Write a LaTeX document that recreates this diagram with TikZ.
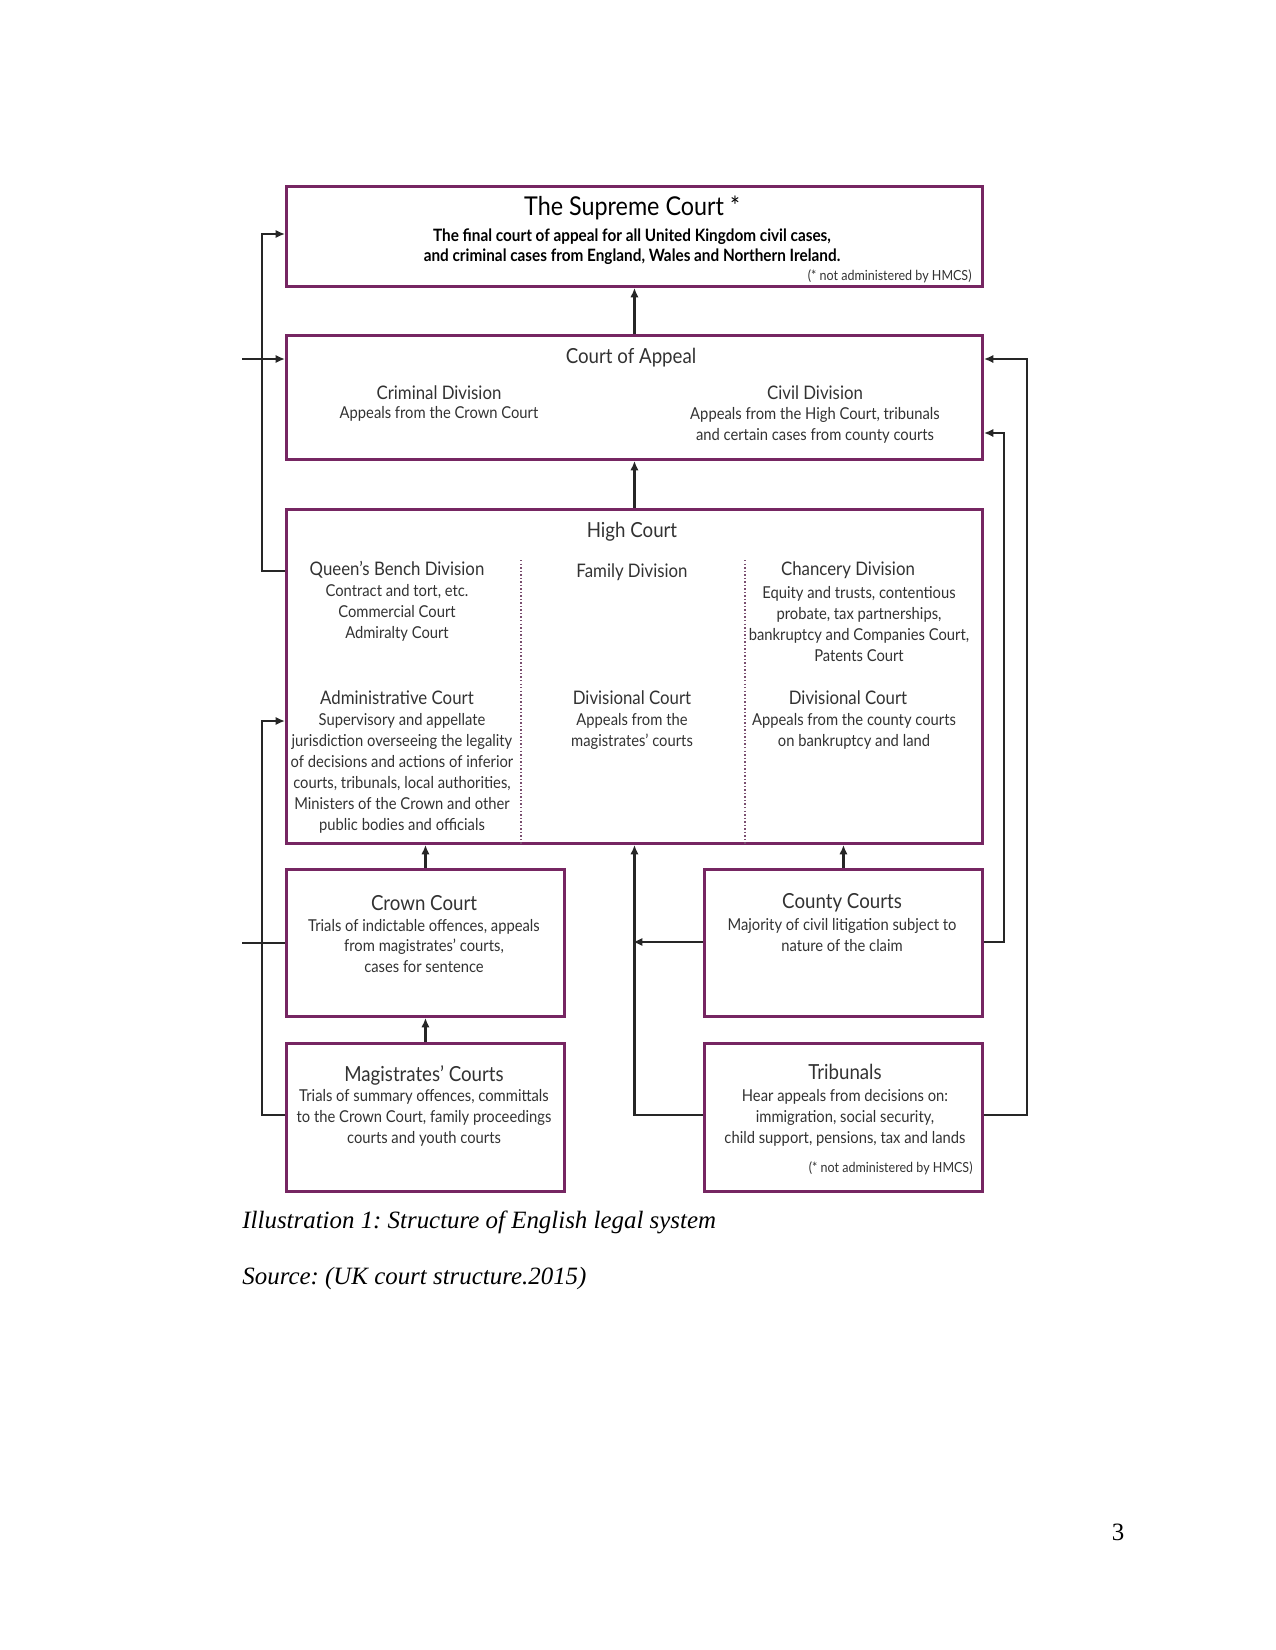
\documentclass[tikz,border=0pt]{standalone}
\usepackage{fontspec}
\setmainfont{Liberation Serif}
\newfontfamily\gs{Lato}[FakeStretch=0.9]
\usetikzlibrary{arrows.meta}
\frenchspacing
\definecolor{boxc}{RGB}{118,38,98}
\definecolor{txt}{RGB}{50,50,50}
\tikzset{
  court/.style={draw=boxc, line width=1.4pt, rectangle, anchor=north west, inner sep=0pt},
  conn/.style={draw=black!85, line width=1.1pt},
  arr/.style={conn, -{Latex[length=4.5pt,width=4pt]}},
  divider/.style={draw=boxc!55!gray, line width=0.7pt, densely dotted},
  bigtitle/.style={font=\gs\fontsize{12.5}{14}\selectfont, text=black, inner sep=0pt},
  boldbody/.style={font=\gs\bfseries\fontsize{8.2}{9.6}\selectfont, text=black, align=center, inner sep=0pt},
  title/.style={font=\gs\fontsize{10}{12}\selectfont, text=txt, inner sep=0pt},
  head/.style={font=\gs\fontsize{9}{10.5}\selectfont, text=txt, inner sep=0pt},
  body/.style={font=\gs\fontsize{7.9}{10.1}\selectfont, text=txt, align=center, inner sep=0pt},
  note/.style={font=\gs\fontsize{6.7}{8}\selectfont, text=txt, inner sep=0pt, anchor=east},
  caption/.style={font=\itshape\fontsize{12}{14}\selectfont, text=black, inner sep=0pt, anchor=west}
}
\begin{document}
\begin{tikzpicture}[x=0.48bp,y=-0.48bp]
\useasboundingbox (0,0) rectangle (1275,1650);

% boxes
\node[court, minimum width=334.08bp, minimum height=48bp] (sc) at (285,185) {};
\node[court, minimum width=334.08bp, minimum height=59.52bp] (coa) at (285,334) {};
\node[court, minimum width=334.08bp, minimum height=160.32bp] (hc) at (285,508) {};
\node[court, minimum width=133.44bp, minimum height=70.56bp] (crown) at (285,868) {};
\node[court, minimum width=133.44bp, minimum height=70.56bp] (county) at (703,868) {};
\node[court, minimum width=133.44bp, minimum height=71.04bp] (mag) at (285,1042) {};
\node[court, minimum width=133.44bp, minimum height=71.04bp] (trib) at (703,1042) {};

% dividers in High Court
\draw[divider] (521,560) -- (hc.south -| 521,0);
\draw[divider] (745,560) -- (hc.south -| 745,0);

% Supreme Court text
\node[bigtitle] (sct) at (632,208) {The Supreme Court *};
\node[boldbody] (scb) at (632,247) {The final court of appeal for all United Kingdom civil cases,\\and criminal cases from England, Wales and Northern Ireland.};
\node[note] (scn) at (972,276) {(* not administered by HMCS)};

% Court of Appeal text
\node[title] (coat) at (631,358) {Court of Appeal};
\node[head] (crimh) at (439,393) {Criminal Division};
\node[body] (crimb) at (439,414) {Appeals from the Crown Court};
\node[head] (civh) at (815,393) {Civil Division};
\node[body] (civb) at (815,425) {Appeals from the High Court, tribunals\\and certain cases from county courts};

% High Court text
\node[title] (hct) at (632,532) {High Court};
\node[head] (qbh) at (397,570) {Queen’s Bench Division};
\node[body] (qbb) at (397,613) {Contract and tort, etc.\\Commercial Court\\Admiralty Court};
\node[head] (famh) at (632,572) {Family Division};
\node[head] (chh) at (848,570) {Chancery Division};
\node[body] (chb) at (859,624) {Equity and trusts, contentious\\probate, tax partnerships,\\bankruptcy and Companies Court,\\Patents Court};
\node[head] (admh) at (397,698) {Administrative Court};
\node[body] (admb) at (402,773) {Supervisory and appellate\\jurisdiction overseeing the legality\\of decisions and actions of inferior\\courts, tribunals, local authorities,\\Ministers of the Crown and other\\public bodies and officials};
\node[head] (dv1h) at (632,698) {Divisional Court};
\node[body] (dv1b) at (632,731) {Appeals from the\\magistrates’ courts};
\node[head] (dv2h) at (848,698) {Divisional Court};
\node[body] (dv2b) at (854,731) {Appeals from the county courts\\on bankruptcy and land};

% lower boxes text
\node[title] (crt) at (424,903) {Crown Court};
\node[body] (crb) at (424,946) {Trials of indictable offences, appeals\\from magistrates’ courts,\\cases for sentence};
\node[title] (cot) at (842,903) {County Courts};
\node[body] (cob) at (842,935) {Majority of civil litigation subject to\\nature of the claim};
\node[title] (mgt) at (424,1075) {Magistrates’ Courts};
\node[body] (mgb) at (424,1118) {Trials of summary offences, committals\\to the Crown Court, family proceedings\\courts and youth courts};
\node[title] (trt) at (845,1072) {Tribunals};
\node[body] (trb) at (845,1118) {Hear appeals from decisions on:\\immigration, social security,\\child support, pensions, tax and lands};
\node[note] (trn) at (973,1168) {(* not administered by HMCS)};

% connectors
\coordinate (stubA) at (242,359);
\coordinate (stubB) at (242,943);
\draw[arr] (coa.north) -- (sc.south);
\draw[arr] (hc.north) -- (coa.south);
\draw[arr] (hc.west |- 0,571) -| (262,234) -- (sc.west |- 0,234);
\draw[arr] (stubA) -- (coa.west |- stubA);
\draw[conn] (crown.west |- stubB) -- (stubB);
\draw[arr] (mag.west |- 0,1115) -| (262,721) -- (hc.west |- 0,721);
\draw[arr] (crown.north) -- (crown.north |- hc.south);
\draw[arr] (mag.north) -- (crown.south);
\draw[arr] (county.north) -- (county.north |- hc.south);
\draw[arr] (trib.west |- 0,1115) -| (hc.south);
\draw[arr] (county.west |- 0,942) -- (633,942);
\draw[arr] (county.east |- 0,942) -| (1004,433) -- (coa.east |- 0,433);
\draw[arr] (trib.east |- 0,1115) -| (1027,359) -- (coa.east |- 0,359);

% caption
\node[caption] (cap1) at (242,1222) {Illustration 1: Structure of English legal system};
\node[caption] (cap2) at (242,1278) {Source: (UK court structure.2015)};
\node[font=\fontsize{12}{14}\selectfont, inner sep=0pt] (pg) at (1118,1532) {3};
\end{tikzpicture}
\end{document}
